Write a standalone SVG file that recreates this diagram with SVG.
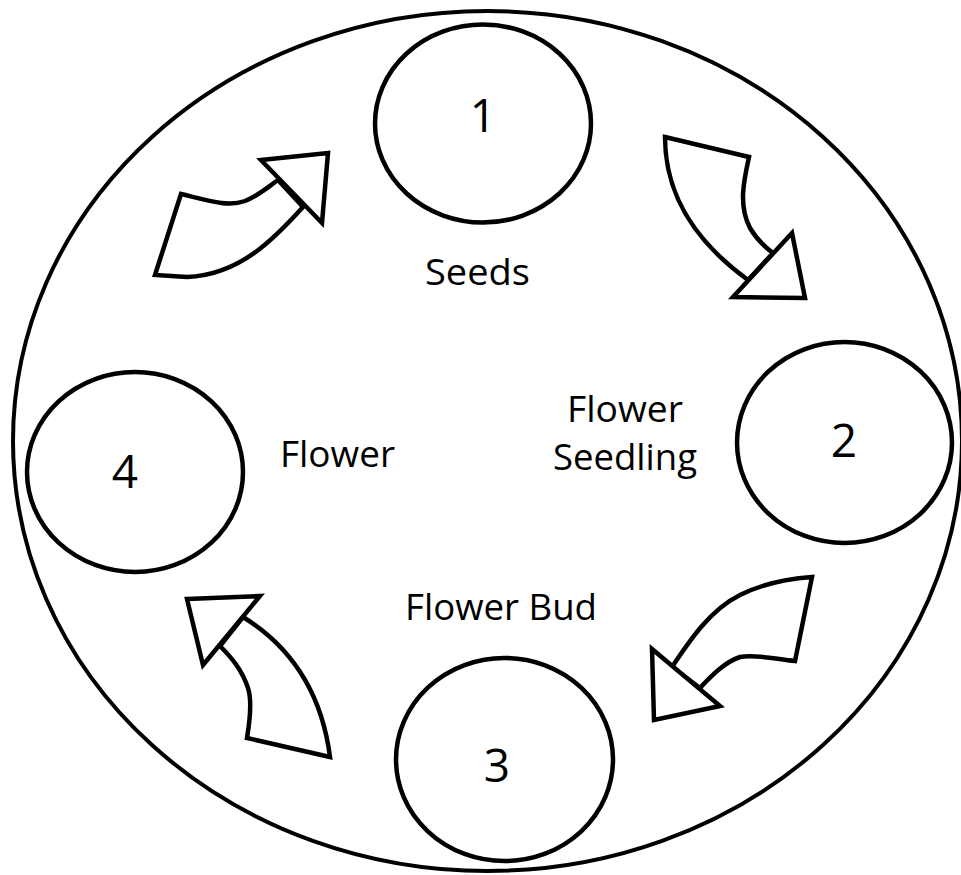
<svg xmlns="http://www.w3.org/2000/svg" width="961" height="875" viewBox="0 0 961 875">
<style>
.outline{fill:#fff;stroke:#000;stroke-width:4}
.node{fill:#fff;stroke:#000;stroke-width:4.5}
.arrow{fill:#fff;stroke:#000;stroke-width:4.5;stroke-linejoin:miter}
.lbl{font-family:"Open Sans","Liberation Sans",sans-serif;font-size:36px;fill:#000}
.num{font-family:"Open Sans","Liberation Sans",sans-serif;font-size:46px;fill:#000;text-anchor:middle}
</style>
<rect width="961" height="875" fill="#fff"/>
<ellipse id="cycle-outline" class="outline" cx="487.5" cy="441" rx="474.5" ry="430"/>
<g id="node-1">
<ellipse class="node" cx="483" cy="123.5" rx="108" ry="99"/>
<text class="num" x="483" y="132">1</text>
</g>
<g id="node-2">
<ellipse class="node" cx="844.5" cy="442.5" rx="107.5" ry="100.5"/>
<text class="num" x="844" y="457">2</text>
</g>
<g id="node-3">
<ellipse class="node" cx="504.5" cy="759.5" rx="108.5" ry="101.5"/>
<text class="num" x="497" y="782">3</text>
</g>
<g id="node-4">
<ellipse class="node" cx="135" cy="472" rx="108" ry="100"/>
<text class="num" x="125" y="488">4</text>
</g>
<g id="labels">
<text class="lbl" x="425" y="285" textLength="105" lengthAdjust="spacingAndGlyphs">Seeds</text>
<text class="lbl" x="567" y="422" textLength="116" lengthAdjust="spacingAndGlyphs">Flower</text>
<text class="lbl" x="553" y="470" textLength="144" lengthAdjust="spacingAndGlyphs">Seedling</text>
<text class="lbl" x="405" y="620" textLength="192" lengthAdjust="spacingAndGlyphs">Flower Bud</text>
<text class="lbl" x="280" y="467" textLength="115" lengthAdjust="spacingAndGlyphs">Flower</text>
</g>
<g id="connectors">
<g id="arrow-4-1">
<path class="arrow" d="M155,275 L181,194 C210,201 228,207 245,201 C258,196 268,187 278,180 L303,207 C275,238 240,275 187,277 Z"/>
<polygon class="arrow" points="261,160 328,153 322,223"/>
</g>
<g id="arrow-1-2">
<path class="arrow" d="M665,137 L749,157 C744,180 738,205 750,228 C757,240 765,247 773,253 L748,280 C700,245 665,200 665,137 Z"/>
<polygon class="arrow" points="792,233 805,298 733,297"/>
</g>
<g id="arrow-2-3">
<path class="arrow" d="M812,577 L795,661 C775,659 755,654 740,657 C725,662 712,675 700,688 L672,667 C690,640 710,610 740,595 C760,585 785,579 812,577 Z"/>
<polygon class="arrow" points="720,706 654,720 652,649"/>
</g>
<g id="arrow-3-4">
<path class="arrow" d="M243,617 C280,640 320,680 330,757 L247,738 C250,720 252,700 248,688 C242,670 232,658 220,646 Z"/>
<polygon class="arrow" points="187,599 260,596 203,665"/>
</g>
</g>
</svg>
